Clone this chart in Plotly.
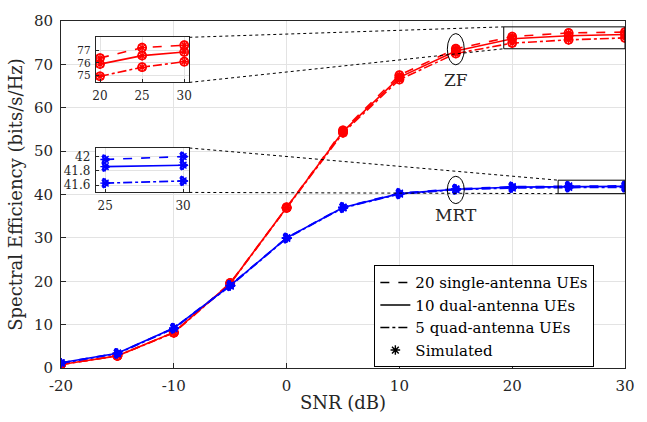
import plotly.graph_objects as go

snr = [-20, -15, -10, -5, 0, 5, 10, 15, 20, 25, 30]
zf_20 = [0.8, 2.8, 8.2, 19.6, 37.0, 54.8, 67.5, 73.6, 76.4, 77.25, 77.45]
zf_10 = [0.8, 2.8, 8.2, 19.5, 37.0, 54.5, 67.0, 73.1, 75.9, 76.6, 76.9]
zf_5 = [0.8, 2.8, 8.1, 19.4, 36.9, 54.2, 66.5, 72.5, 74.9, 75.65, 76.1]
mrt_20 = [1.2, 3.4, 9.2, 19.1, 30.0, 37.1, 40.3, 41.3, 41.8, 41.96, 42.0]
mrt_10 = [1.2, 3.4, 9.2, 19.0, 30.0, 37.0, 40.2, 41.2, 41.7, 41.86, 41.88]
mrt_5 = [1.1, 3.3, 9.1, 18.9, 29.9, 36.9, 40.1, 41.1, 41.5, 41.63, 41.66]

x_ticks = [-20, -10, 0, 10, 20, 30]
x_ticktext = ["-20", "-10", "0", "10", "20", "30"]

legend_names = ["20 single-antenna UEs", "10 dual-antenna UEs", "5 quad-antenna UEs", "Simulated"]
dashes = ["dash", "solid", "dashdot"]

RED = "#ff0000"
BLUE = "#0000ff"
FONT = "DejaVu Serif"
AX = "#262626"

XR = [-20, 30]
YR = [0, 80]
ZF_BOX = dict(x0=19.25, x1=30, y0=73.6, y1=78.65)
MRT_BOX = dict(x0=24.07, x1=30, y0=40.2, y1=43.3)

ins1_dom_x = [0.0617, 0.2275]
ins1_dom_y = [0.823, 0.953]
ins2_dom_x = [0.0617, 0.2275]
ins2_dom_y = [0.506, 0.634]

fig = go.Figure()

def add_curves(xa, ya, xs, ys_list, color, sym, sel=None):
    for ys, d in zip(ys_list, dashes):
        xx, yy = xs, ys
        if sel is not None:
            xx = [x for x in xs if x >= sel]
            yy = [y for x, y in zip(xs, ys) if x >= sel]
        fig.add_trace(go.Scatter(x=xx, y=yy, mode="lines+markers", xaxis=xa, yaxis=ya,
                                 line=dict(color=color, width=1.6, dash=d),
                                 marker=dict(symbol=sym, size=8, color=color, line=dict(width=1.8, color=color)),
                                 showlegend=False, hoverinfo="skip"))
        fig.add_trace(go.Scatter(x=xx, y=yy, mode="markers", xaxis=xa, yaxis=ya,
                                 marker=dict(symbol="asterisk-open", size=8, color=color,
                                             line=dict(width=1.4, color=color)),
                                 showlegend=False, hoverinfo="skip"))

add_curves("x", "y", snr, [zf_20, zf_10, zf_5], RED, "circle-open")
add_curves("x", "y", snr, [mrt_20, mrt_10, mrt_5], BLUE, "triangle-right-open")
add_curves("x2", "y2", snr, [zf_20, zf_10, zf_5], RED, "circle-open", sel=20)
add_curves("x3", "y3", snr, [mrt_20, mrt_10, mrt_5], BLUE, "triangle-right-open", sel=25)

# legend dummies
for name, d in zip(legend_names[:3], dashes):
    fig.add_trace(go.Scatter(x=[None], y=[None], mode="lines", name=name,
                             line=dict(color="black", width=1.4, dash=d)))
fig.add_trace(go.Scatter(x=[None], y=[None], mode="markers", name=legend_names[3],
                         marker=dict(symbol="asterisk-open", size=8, color="black",
                                     line=dict(width=1.4, color="black"))))

axis_common = dict(showline=True, linecolor=AX, linewidth=1, mirror=True, ticks="inside",
                   tickcolor=AX, ticklen=5, gridcolor="#e3e3e3", gridwidth=1, zeroline=False,
                   ticklabelstandoff=4,
                   tickfont=dict(family=FONT, size=15, color=AX))
inset_common = dict(axis_common)
inset_common["tickfont"] = dict(family=FONT, size=12, color=AX)
inset_common["ticklen"] = 3
inset_common["ticklabelstandoff"] = 2
inset_ytight = dict(inset_common)
inset_ytight["tickfont"] = dict(family=FONT, size=10.5, color=AX)

fig.update_layout(
    width=647, height=422,
    margin=dict(l=61, r=19, t=14, b=53),
    paper_bgcolor="white", plot_bgcolor="white",
    font=dict(family=FONT, color=AX),
    xaxis=dict(range=XR, tickvals=x_ticks, ticktext=x_ticktext,
               title=dict(text="SNR (dB)", font=dict(family=FONT, size=18, color=AX), standoff=2), **axis_common),
    yaxis=dict(range=YR, dtick=10,
               title=dict(text="Spectral Efficiency (bits/s/Hz)", font=dict(family=FONT, size=18, color=AX), standoff=6),
               **axis_common),
    xaxis2=dict(domain=ins1_dom_x, anchor="y2", range=[19.5, 30.6], tickvals=[20, 25, 30], **inset_common),
    yaxis2=dict(domain=ins1_dom_y, anchor="x2", range=[74.4, 78.1], tickvals=[75, 76, 77], **inset_ytight),
    xaxis3=dict(domain=ins2_dom_x, anchor="y3", range=[24.4, 30.4], tickvals=[25, 30], **inset_common),
    yaxis3=dict(domain=ins2_dom_y, anchor="x3", range=[41.5, 42.12], tickvals=[41.6, 41.8, 42], **inset_common),
    legend=dict(x=0.5556, y=0.296, xanchor="left", yanchor="top", bgcolor="white",
                bordercolor="black", borderwidth=1, font=dict(family=FONT, size=15, color="black"),
                tracegroupgap=0, itemwidth=30),
    showlegend=True,
)

# white backgrounds of insets
for xr, yr in [("x2", "y2"), ("x3", "y3")]:
    fig.add_shape(type="rect", xref=f"{xr} domain", yref=f"{yr} domain", x0=0, x1=1, y0=0, y1=1,
                  fillcolor="white", line=dict(width=0), layer="below")

# zoom boxes
for b in (ZF_BOX, MRT_BOX):
    fig.add_shape(type="rect", xref="x", yref="y", line=dict(color="black", width=1), **b)

# ellipses
fig.add_shape(type="circle", xref="x", yref="y", x0=14.25, x1=15.75, y0=69.9, y1=77.1, line=dict(color="black", width=1))
fig.add_shape(type="circle", xref="x", yref="y", x0=14.25, x1=15.75, y0=37.9, y1=44.2, line=dict(color="black", width=1))

def px(x):
    return (x - XR[0]) / (XR[1] - XR[0])

def py(y):
    return (y - YR[0]) / (YR[1] - YR[0])

# dotted connectors
conns = [
    (ins1_dom_x[1], ins1_dom_y[1], px(ZF_BOX["x0"]), py(ZF_BOX["y1"])),
    (ins1_dom_x[1], ins1_dom_y[0], px(ZF_BOX["x0"]), py(ZF_BOX["y0"])),
    (ins2_dom_x[1], ins2_dom_y[1], px(MRT_BOX["x0"]), py(MRT_BOX["y1"])),
    (ins2_dom_x[1], ins2_dom_y[0], px(MRT_BOX["x0"]), py(MRT_BOX["y0"])),
]
for x0, y0, x1, y1 in conns:
    fig.add_shape(type="line", xref="paper", yref="paper", x0=x0, y0=y0, x1=x1, y1=y1,
                  line=dict(color="black", width=1, dash="dot"))

fig.add_annotation(x=15, y=66.5, xref="x", yref="y", text="ZF", showarrow=False,
                   font=dict(family=FONT, size=17, color=AX))
fig.add_annotation(x=15, y=35.2, xref="x", yref="y", text="MRT", showarrow=False,
                   font=dict(family=FONT, size=17, color=AX))

fig.write_html("out.html")
